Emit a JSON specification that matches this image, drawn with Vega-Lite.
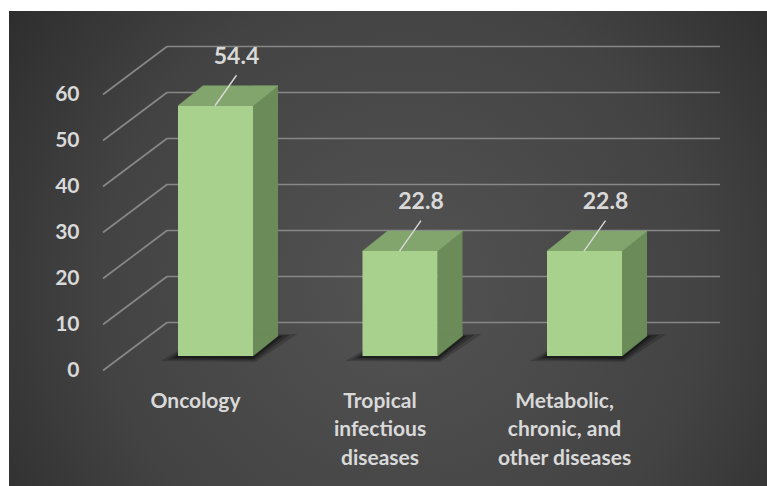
{
  "$schema": "https://vega.github.io/schema/vega-lite/v6.json",
  "width": 758,
  "height": 475,
  "autosize": {"type": "none"},
  "padding": {"left": 9, "top": 11, "right": 0, "bottom": 0},
  "background": "#ffffff",
  "config": {
    "view": {"stroke": null},
    "font": "Lato",
    "axis": {
      "domain": false,
      "ticks": false,
      "grid": false,
      "labelFont": "Lato",
      "labelFontWeight": "bold",
      "labelFontSize": 21,
      "labelColor": "#d9d9d9",
      "labelPadding": 0,
      "labelOverlap": false
    }
  },
  "datasets": {
    "shares": [
      {"area": "Oncology", "share": 54.4},
      {"area": "Tropical infectious diseases", "share": 22.8},
      {"area": "Metabolic, chronic, and other diseases", "share": 22.8}
    ],
    "ticks": [
      {"tick": 0}, {"tick": 10}, {"tick": 20}, {"tick": 30},
      {"tick": 40}, {"tick": 50}, {"tick": 60}
    ]
  },
  "layer": [
    {
      "data": {"values": [{}]},
      "mark": {
        "type": "rect",
        "fill": {
          "gradient": "radial",
          "x1": 0.52, "y1": 0.55, "r1": 0,
          "x2": 0.52, "y2": 0.55, "r2": 0.72,
          "stops": [
            {"offset": 0, "color": "#535353"},
            {"offset": 0.55, "color": "#434343"},
            {"offset": 1, "color": "#262626"}
          ]
        }
      },
      "encoding": {}
    },
    {
      "data": {"name": "ticks"},
      "mark": {"type": "rule", "stroke": "#878787", "strokeWidth": 1.7, "xOffset": -48.5, "x2Offset": 135.5, "yOffset": -33.5},
      "encoding": {
        "x": {"datum": "Oncology", "type": "nominal", "bandPosition": 0.5},
        "x2": {"datum": "Metabolic, chronic, and other diseases", "bandPosition": 0.5},
        "y": {"field": "tick", "type": "quantitative"}
      }
    },
    {
      "data": {"name": "ticks"},
      "mark": {"type": "rule", "stroke": "#878787", "strokeWidth": 1.7, "xOffset": -112.5, "x2Offset": -48.5, "yOffset": 14.5, "y2Offset": -33.5},
      "encoding": {
        "x": {"datum": "Oncology", "type": "nominal", "bandPosition": 0.5},
        "x2": {"datum": "Oncology", "bandPosition": 0.5},
        "y": {"field": "tick", "type": "quantitative"},
        "y2": {"field": "tick"}
      }
    },
    {
      "data": {"name": "shares"},
      "mark": {"type": "point", "shape": "M-55,5L40,6L82,-22L-8,-22Z", "size": 4, "filled": true, "fill": "#000000", "strokeWidth": 0, "opacity": 0.18},
      "encoding": {
        "x": {"field": "area", "type": "nominal"},
        "y": {"datum": 0, "type": "quantitative"}
      }
    },
    {
      "data": {"name": "shares"},
      "mark": {"type": "point", "shape": "M-48,3.5L39,4.5L74,-21L-10,-21Z", "size": 4, "filled": true, "fill": "#000000", "strokeWidth": 0, "opacity": 0.25},
      "encoding": {
        "x": {"field": "area", "type": "nominal"},
        "y": {"datum": 0, "type": "quantitative"}
      }
    },
    {
      "data": {"name": "shares"},
      "mark": {"type": "point", "shape": "M-42,2L38,3L67,-20L-12,-20Z", "size": 4, "filled": true, "fill": "#000000", "strokeWidth": 0, "opacity": 0.35},
      "encoding": {
        "x": {"field": "area", "type": "nominal"},
        "y": {"datum": 0, "type": "quantitative"}
      }
    },
    {
      "data": {"name": "shares"},
      "mark": {"type": "bar", "width": 25, "xOffset": 50, "yOffset": -20, "y2Offset": -20, "fill": "#6b8b58"},
      "encoding": {
        "x": {"field": "area", "type": "nominal"},
        "y": {"field": "share", "type": "quantitative"}
      }
    },
    {
      "data": {"name": "shares"},
      "mark": {"type": "point", "shape": "M37.5,0L37.5,-21L62.5,-21L62.5,-20Z", "size": 4, "filled": true, "fill": "#6b8b58", "stroke": "#6b8b58", "strokeWidth": 0.5, "opacity": 1},
      "encoding": {
        "x": {"field": "area", "type": "nominal"},
        "y": {"datum": 0, "type": "quantitative"}
      }
    },
    {
      "data": {"name": "shares"},
      "mark": {"type": "point", "shape": "M-37.5,0L37.5,0L62.5,-20L-12.5,-20Z", "size": 4, "filled": true, "fill": "#81a56c", "stroke": "#81a56c", "strokeWidth": 0.5, "opacity": 1},
      "encoding": {
        "x": {"field": "area", "type": "nominal"},
        "y": {"field": "share", "type": "quantitative"}
      }
    },
    {
      "data": {"name": "shares"},
      "mark": {"type": "bar", "width": 75, "fill": "#a9d18e"},
      "encoding": {
        "x": {
          "field": "area", "type": "nominal", "title": null,
          "scale": {
            "domain": ["Oncology", "Tropical infectious diseases", "Metabolic, chronic, and other diseases"],
            "range": [114.25, 667.75],
            "paddingInner": 0, "paddingOuter": 0
          },
          "axis": {
            "zindex": 1,
            "offset": -96,
            "labelOffset": -20,
            "labelAngle": 0,
            "labelAlign": "center",
            "labelBaseline": "top",
            "labelLineHeight": 28.7,
            "labelLimit": 0,
            "labelExpr": "datum.value == 'Tropical infectious diseases' ? ['Tropical', 'infectious', 'diseases'] : datum.value == 'Metabolic, chronic, and other diseases' ? ['Metabolic,', 'chronic, and', 'other diseases'] : datum.label"
          }
        },
        "y": {
          "field": "share", "type": "quantitative", "title": null,
          "scale": {"domain": [0, 60], "range": [345, 69], "nice": false},
          "axis": {"zindex": 1, "values": [0, 10, 20, 30, 40, 50, 60], "offset": -70, "labelOffset": 14.5, "labelAlign": "right"}
        }
      }
    },
    {
      "data": {"name": "shares"},
      "mark": {"type": "point", "shape": "M0,0L21.5,-30.5", "size": 4, "filled": false, "stroke": "#d9d9d9", "strokeWidth": 1.4, "opacity": 1, "xOffset": -0.5},
      "encoding": {
        "x": {"field": "area", "type": "nominal"},
        "y": {"field": "share", "type": "quantitative"}
      }
    },
    {
      "data": {"name": "shares"},
      "mark": {"type": "text", "font": "Lato", "fontWeight": "bold", "fontSize": 23, "fill": "#d9d9d9", "dx": 21, "dy": -49, "baseline": "middle", "align": "center"},
      "encoding": {
        "x": {"field": "area", "type": "nominal"},
        "y": {"field": "share", "type": "quantitative"},
        "text": {"field": "share", "type": "quantitative", "format": ".1f"}
      }
    }
  ]
}
